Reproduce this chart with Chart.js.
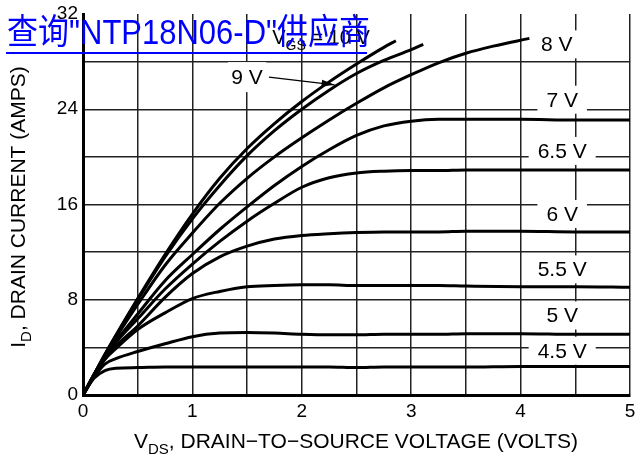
<!DOCTYPE html>
<html>
<head>
<meta charset="utf-8">
<script src="https://cdn.jsdelivr.net/npm/chart.js@4.4.1/dist/chart.umd.min.js"></script>
<style>
  body { margin: 0; background: #fff; }
  canvas { display: block; }
</style>
</head>
<body>
<canvas id="drainChart" width="636" height="460"></canvas>
<script>
// Output characteristics, I_D vs V_DS for each gate voltage
const vdsFull = [0, 0.1, 0.2, 0.3, 0.5, 0.75, 1, 1.25, 1.5, 1.75, 2, 2.25, 2.5, 2.75, 3, 3.25, 3.5, 4, 4.5, 5];
const id4_5 = [0, 1.4, 2.05, 2.25, 2.3, 2.35, 2.35, 2.35, 2.35, 2.35, 2.35, 2.35, 2.3, 2.35, 2.35, 2.35, 2.35, 2.4, 2.4, 2.4];
const id5 = [0, 1.5, 2.6, 3.05, 3.65, 4.3, 4.9, 5.2, 5.25, 5.2, 5.1, 5.05, 5.05, 5.1, 5.1, 5.1, 5.15, 5.15, 5.1, 5.1];
const id5_5 = [0, 1.6, 3.0, 3.9, 5.5, 6.9, 8.1, 8.7, 9.1, 9.2, 9.25, 9.25, 9.2, 9.2, 9.2, 9.2, 9.15, 9.1, 9.1, 9.05];
const id6 = [0, 1.6, 3.0, 4.1, 5.8, 8.2, 10.2, 11.6, 12.5, 13.1, 13.4, 13.55, 13.65, 13.7, 13.7, 13.7, 13.75, 13.75, 13.7, 13.7];
const id6_5 = [0, 1.7, 3.1, 4.4, 6.4, 8.9, 11.0, 12.9, 14.6, 16.1, 17.45, 18.25, 18.65, 18.8, 18.85, 18.85, 18.9, 18.9, 18.9, 18.9];
const id7 = [0, 1.7, 3.2, 4.5, 6.8, 9.6, 11.8, 13.9, 15.8, 17.6, 19.2, 20.6, 21.8, 22.6, 23.0, 23.15, 23.15, 23.15, 23.1, 23.1];

const vds8 = [0, 0.1, 0.2, 0.3, 0.5, 0.75, 1, 1.25, 1.5, 1.75, 2, 2.25, 2.5, 2.75, 3, 3.25, 3.5, 3.75, 4.08];
const id8 = [0, 1.7, 3.3, 4.8, 7.6, 10.9, 13.6, 16.1, 18.2, 20.0, 21.6, 23.1, 24.5, 25.8, 26.9, 27.9, 28.7, 29.3, 29.95];

const vds9 = [0, 0.1, 0.2, 0.3, 0.5, 0.75, 1, 1.25, 1.5, 1.75, 2, 2.25, 2.5, 2.75, 3, 3.11];
const id9 = [0, 1.7, 3.4, 5.0, 8.0, 11.6, 14.8, 17.6, 20.1, 22.2, 24.0, 25.6, 27.0, 28.1, 29.0, 29.45];

const vds10 = [0, 0.1, 0.2, 0.3, 0.5, 0.75, 1, 1.25, 1.5, 1.75, 2, 2.25, 2.5, 2.75, 2.86];
const id10 = [0, 1.7, 3.4, 5.0, 8.1, 11.8, 15.2, 18.2, 20.7, 22.8, 24.65, 26.3, 27.8, 29.2, 29.75];

const xTicks = [0, 1, 2, 3, 4, 5];
const yTicks = [0, 8, 16, 24, 32];

// curve labels on the right, anchored in data units
const curveLabels = ['4.5 V', '5 V', '5.5 V', '6 V', '6.5 V', '7 V', '8 V'];
const curveLabelX = [4.38, 4.38, 4.38, 4.38, 4.38, 4.38, 4.33];
const curveLabelY = [3.72, 6.68, 10.55, 15.2, 20.5, 24.8, 29.45];

const FONT = '"Liberation Sans", Arial, sans-serif';

function toPoints(xs, ys) {
    return xs.map((x, i) => ({ x: x, y: ys[i] }));
}

function curve(label, xs, ys) {
    return {
        label: label,
        data: toPoints(xs, ys),
        borderColor: '#000',
        borderWidth: 3,
        pointRadius: 0,
        fill: false,
        cubicInterpolationMode: 'monotone'
    };
}

// draws text with a subscript part: [main, sub, rest]
function drawSubText(ctx, parts, x, y, size, align) {
    const big = size + 'px ' + FONT;
    const small = Math.round(size * 0.72) + 'px ' + FONT;
    ctx.font = big;
    const w1 = ctx.measureText(parts[0]).width;
    const w3 = ctx.measureText(parts[2]).width;
    ctx.font = small;
    const w2 = ctx.measureText(parts[1]).width;
    let start = x;
    if (align === 'center') start = x - (w1 + w2 + w3) / 2;
    ctx.textAlign = 'left';
    ctx.textBaseline = 'alphabetic';
    ctx.font = big;
    ctx.fillText(parts[0], start, y);
    ctx.font = small;
    ctx.fillText(parts[1], start + w1, y + size * 0.3);
    ctx.font = big;
    ctx.fillText(parts[2], start + w1 + w2, y);
}

const annotations = {
    id: 'annotations',
    afterDatasetsDraw(chart) {
        const ctx = chart.ctx;
        const xs = chart.scales.x;
        const ys = chart.scales.y;
        ctx.save();
        ctx.fillStyle = '#000';

        // labels for each gate voltage, white boxes break the grid
        curveLabels.forEach((txt, i) => {
            const px = xs.getPixelForValue(curveLabelX[i]);
            const py = ys.getPixelForValue(curveLabelY[i]);
            ctx.font = '21px ' + FONT;
            const w = ctx.measureText(txt).width;
            ctx.fillStyle = '#fff';
            ctx.fillRect(px - w / 2 - 9, py - 14, w + 18, 28);
            ctx.fillStyle = '#000';
            ctx.textAlign = 'center';
            ctx.textBaseline = 'middle';
            ctx.fillText(txt, px, py + 1);
        });

        // 9 V label with arrow
        const lx = xs.getPixelForValue(1.5);
        const ly = ys.getPixelForValue(26.7);
        ctx.font = '21px ' + FONT;
        ctx.fillStyle = '#fff';
        ctx.fillRect(lx - 19, ly - 15, 38, 30);
        ctx.fillStyle = '#000';
        ctx.textAlign = 'center';
        ctx.textBaseline = 'middle';
        ctx.fillText('9 V', lx, ly + 1);
        const ax1 = xs.getPixelForValue(1.7), ay1 = ys.getPixelForValue(26.7);
        const ax2 = xs.getPixelForValue(2.3), ay2 = ys.getPixelForValue(26.05);
        ctx.strokeStyle = '#000';
        ctx.lineWidth = 1.2;
        ctx.beginPath();
        ctx.moveTo(ax1, ay1);
        ctx.lineTo(ax2, ay2);
        ctx.stroke();
        const ang = Math.atan2(ay2 - ay1, ax2 - ax1);
        ctx.beginPath();
        ctx.moveTo(ax2, ay2);
        ctx.lineTo(ax2 - 13 * Math.cos(ang) + 3.5 * Math.sin(ang), ay2 - 13 * Math.sin(ang) - 3.5 * Math.cos(ang));
        ctx.lineTo(ax2 - 13 * Math.cos(ang) - 3.5 * Math.sin(ang), ay2 - 13 * Math.sin(ang) + 3.5 * Math.cos(ang));
        ctx.closePath();
        ctx.fill();

        // V_GS = 10 V
        const gx = xs.getPixelForValue(1.73);
        const gy = ys.getPixelForValue(29.5);
        drawSubText(ctx, ['V', 'GS', ' = 10 V'], gx, gy, 20, 'left');
        ctx.restore();
    },
    afterDraw(chart) {
        const ctx = chart.ctx;
        ctx.save();
        ctx.fillStyle = '#000';
        // x axis title
        drawSubText(ctx, ['V', 'DS', ', DRAIN\u2212TO\u2212SOURCE VOLTAGE (VOLTS)'], 356, 448, 21, 'center');
        // y axis title, rotated
        ctx.translate(25, 207);
        ctx.rotate(-Math.PI / 2);
        drawSubText(ctx, ['I', 'D', ', DRAIN CURRENT (AMPS)'], 0, 0, 21, 'center');
        ctx.restore();

        // blue link text over the page
        ctx.save();
        ctx.fillStyle = '#0000ff';
        ctx.font = '31px "Liberation Sans", "Noto Sans CJK SC", sans-serif';
        ctx.textAlign = 'left';
        ctx.textBaseline = 'alphabetic';
        ctx.translate(7, 44);
        ctx.scale(1, 1.12);
        ctx.fillText('查询"NTP18N06-D"供应商', 0, 0);
        ctx.restore();
        ctx.fillStyle = '#0000ff';
        ctx.fillRect(6, 52, 361, 2);
    }
};

const ctx = document.getElementById('drainChart').getContext('2d');

new Chart(ctx, {
    type: 'line',
    data: {
        datasets: [
            curve('4.5 V', vdsFull, id4_5),
            curve('5 V', vdsFull, id5),
            curve('5.5 V', vdsFull, id5_5),
            curve('6 V', vdsFull, id6),
            curve('6.5 V', vdsFull, id6_5),
            curve('7 V', vdsFull, id7),
            curve('8 V', vds8, id8),
            curve('9 V', vds9, id9),
            curve('10 V', vds10, id10)
        ]
    },
    options: {
        responsive: false,
        animation: false,
        devicePixelRatio: 1,
        layout: { padding: { top: 14, right: 6, left: 0, bottom: 0 } },
        plugins: {
            legend: { display: false },
            tooltip: { enabled: false }
        },
        scales: {
            x: {
                type: 'linear',
                min: 0,
                max: 5,
                ticks: {
                    stepSize: 0.5,
                    color: '#000',
                    font: { family: FONT, size: 19 },
                    padding: 5,
                    maxRotation: 0,
                    autoSkip: false,
                    callback: v => xTicks.includes(v) ? String(v) : ''
                },
                grid: { color: '#222', lineWidth: 1.5, drawTicks: false },
                border: { color: '#000', width: 3 },
                afterFit: s => { s.height = 65; s.paddingLeft = 0; s.paddingRight = 0; }
            },
            y: {
                type: 'linear',
                min: 0,
                max: 32,
                ticks: {
                    stepSize: 4,
                    color: '#000',
                    font: { family: FONT, size: 19 },
                    padding: 5,
                    autoSkip: false,
                    callback: v => yTicks.includes(v) ? String(v) : ''
                },
                grid: {
                    color: c => c.tick && c.tick.value === 32 ? 'rgba(0,0,0,0)' : '#222',
                    lineWidth: 1.5,
                    drawTicks: false
                },
                border: { color: '#000', width: 3 },
                afterFit: s => { s.width = 83; s.paddingTop = 0; s.paddingBottom = 0; }
            }
        }
    },
    plugins: [annotations]
});
</script>
</body>
</html>
